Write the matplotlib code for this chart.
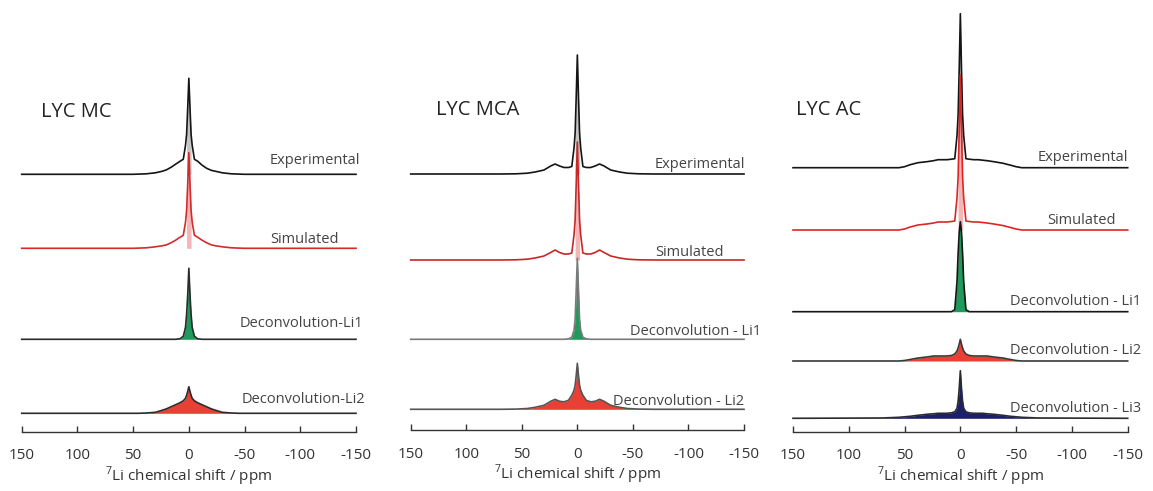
import matplotlib.pyplot as plt
import numpy as np

ppm = [150, 70, 55, 50, 45, 38, 30, 24, 20, 16, 12, 8, 5, 3, 2, 1, 0,
       -1, -2, -3, -5, -8, -12, -16, -20, -24, -30, -38, -45, -50, -55, -70, -150]

# ---------------- LYC MC ----------------
mc_exp = [0, 0, 0, 0, 0.2, 0.5, 1.5, 3, 4.5, 7, 10, 13, 15, 29, 40, 67, 96,
          67, 40, 29, 15, 13, 9, 6, 4, 3, 1.5, 0.5, 0.2, 0, 0, 0, 0]
mc_sim = [0, 0, 0, 0, 0.2, 0.5, 1.5, 2.5, 3.5, 5.5, 8, 11, 13, 26, 38, 65, 95.6,
          65, 38, 26, 13, 11, 8, 5.5, 3.5, 2.5, 1.5, 0.5, 0.2, 0, 0, 0, 0]
mc_li1 = [0, 0, 0, 0, 0, 0, 0, 0, 0, 0, 0, 0.5, 3, 12, 25, 45, 71,
          45, 25, 12, 3, 0.5, 0, 0, 0, 0, 0, 0, 0, 0, 0, 0, 0]
mc_li2 = [0, 0, 0, 0, 0, 0.3, 1, 3, 4.5, 6.5, 8.5, 10.5, 12.5, 15, 18, 22, 26.6,
          22, 18, 15, 12.5, 10.5, 8.5, 6.5, 4.5, 3, 1, 0.3, 0, 0, 0, 0, 0]

# ---------------- LYC MCA ----------------
mca_exp = [0, 0, 0.2, 0.5, 0.8, 2, 4, 8, 10, 8, 6.5, 6.5, 7.5, 26, 41, 78, 119,
           78, 41, 26, 7.5, 6.5, 6.5, 8, 10, 8, 4, 2, 0.8, 0.5, 0.2, 0, 0]
mca_sim = [0, 0, 0.2, 0.5, 0.8, 2, 4, 7.5, 10, 7.5, 6, 6, 7, 25, 40, 77, 118,
           77, 40, 25, 7, 6, 6, 7.5, 10, 7.5, 4, 2, 0.8, 0.5, 0.2, 0, 0]
mca_li1 = [0, 0, 0, 0, 0, 0, 0, 0, 0, 0, 0, 0.5, 2, 9, 20, 50, 81,
           50, 20, 9, 2, 0.5, 0, 0, 0, 0, 0, 0, 0, 0, 0, 0, 0]
mca_li2 = [0, 0, 0.2, 0.5, 0.8, 2, 4, 8, 10, 8, 7.5, 9, 14, 19, 24, 34, 46,
           34, 24, 19, 14, 9, 7.5, 8, 10, 8, 4, 2, 0.8, 0.5, 0.2, 0, 0]

# ---------------- LYC AC ----------------
ac_exp = [0, 0, 0, 1, 3, 5, 6, 7, 8, 8, 8, 8.5, 9, 32, 53, 100, 154,
          100, 53, 32, 9, 8.5, 8, 8, 7.5, 7, 6, 4.5, 2.5, 1, 0, 0, 0]
ac_sim = [0, 0, 0, 1, 3, 5, 6, 7, 8, 8, 8, 8.5, 9, 32, 53, 100, 155,
          100, 53, 32, 9, 8.5, 8, 8, 7.5, 7, 6, 4.5, 2.5, 1, 0, 0, 0]
ac_li1 = [0, 0, 0, 0, 0, 0, 0, 0, 0, 0, 0, 0, 2, 30, 58, 80, 90,
          80, 58, 30, 2, 0, 0, 0, 0, 0, 0, 0, 0, 0, 0, 0, 0]
ac_li2 = [0, 0, 0, 0.5, 1.5, 3, 4, 5, 5, 5, 5, 5.5, 7, 10, 13, 17, 21.7,
          17, 13, 10, 7, 5.5, 5, 5, 5, 5, 4, 3, 1.5, 0.5, 0, 0, 0]
ac_li3 = [0, 0.3, 1, 1.5, 2, 3, 4, 4.5, 5, 5, 5, 5.5, 6.5, 10, 17, 30, 47.6,
          30, 17, 10, 6.5, 5.5, 5, 5, 5, 4.5, 4, 3, 2, 1.5, 1, 0.3, 0]

ticks = [150, 100, 50, 0, -50, -100, -150]
xlabel = '$^{7}$Li chemical shift / ppm'

W, H = 1153, 491
plt.rcParams['font.family'] = ['Open Sans', 'DejaVu Sans']
plt.rcParams['mathtext.fontset'] = 'custom'
plt.rcParams['mathtext.rm'] = 'Open Sans'
plt.rcParams['axes.unicode_minus'] = False
fig = plt.figure(figsize=(W / 100, H / 100), dpi=100)

x = np.array(ppm, dtype=float)

# (left px, right px, axis-line px)
panels = [(21.7, 356, 431.7), (410.7, 744, 430), (793, 1127.7, 431.7)]

# trace: data, offset, line colour, fill colour, light peak colour, label, label dy, label end
traces = [
    [(mc_exp, 257.4, '#151515', None, '#c4c4c4', 'Experimental', 14, -153.5),
     (mc_sim, 183.4, '#d42a2a', None, '#f3b5b5', 'Simulated', 9, -134.6),
     (mc_li1, 92.4, '#2b2b2b', '#1f9a5c', None, 'Deconvolution-Li1', 16, -156.7),
     (mc_li2, 18.4, '#2b2b2b', '#ea3f35', None, 'Deconvolution-Li2', 14, -158)],
    [(mca_exp, 256, '#151515', None, '#c4c4c4', 'Experimental', 10, -151),
     (mca_sim, 170, '#c62828', None, '#f3b5b5', 'Simulated', 8, -131.5),
     (mca_li1, 90.7, '#7a7a7a', '#1f9a5c', None, 'Deconvolution - Li1', 8, -165),
     (mca_li2, 20.7, '#555555', '#ea3f35', None, 'Deconvolution - Li2', 7.6, -150.5)],
    [(ac_exp, 264, '#151515', None, '#b0b0b0', 'Experimental', 10, -150),
     (ac_sim, 201.7, '#e02424', None, '#f3b5b5', 'Simulated', 9, -139.6),
     (ac_li1, 120, '#151515', '#1f9a5c', None, 'Deconvolution - Li1', 10, -162),
     (ac_li2, 70.7, '#3a3a3a', '#ea3f35', None, 'Deconvolution - Li2', 11, -162),
     (ac_li3, 13.4, '#2b2b2b', '#1c1f6b', None, 'Deconvolution - Li3', 10, -162)],
]
titles = [('LYC MC', 133, 112), ('LYC MCA', 127, 110), ('LYC AC', 147, 110)]

for (l, r, ay), tr, (tt, tx, ty) in zip(panels, traces, titles):
    ax = fig.add_axes([l / W, (H - ay) / H, (r - l) / W, ay / H])
    ax.set_xlim(150, -150)
    ax.set_ylim(0, ay)
    for s in ['top', 'left', 'right']:
        ax.spines[s].set_visible(False)
    ax.spines['bottom'].set_color('#333333')
    ax.spines['bottom'].set_linewidth(1.0)
    ax.set_yticks([])
    ax.set_xticks(ticks)
    ax.tick_params(axis='x', direction='in', length=4, width=1.0,
                   color='#333333', labelsize=11, labelcolor='#333333', pad=12)
    ax.set_xlabel(xlabel, fontsize=11, color='#333333', labelpad=1)
    for data, off, lc, fc, pc, lab, dy, lx in tr:
        y = np.array(data, dtype=float)
        if fc is not None:
            ax.fill_between(x, off, off + y, color=fc, lw=0, clip_on=False)
        if pc is not None:
            ax.fill_between(x, off, off + y, where=np.abs(x) <= 2, color=pc,
                            lw=0, clip_on=False)
        ax.plot(x, off + y, color=lc, lw=1.2, clip_on=False, solid_joinstyle='round')
        ax.text(lx, off + dy, lab, ha='right', va='center', fontsize=10.5,
                color='#444444', clip_on=False)
    ax.text(tx, ay - ty, tt, ha='left', va='center', fontsize=14.5, color='#222222')

fig.savefig('out.png', dpi=100)
